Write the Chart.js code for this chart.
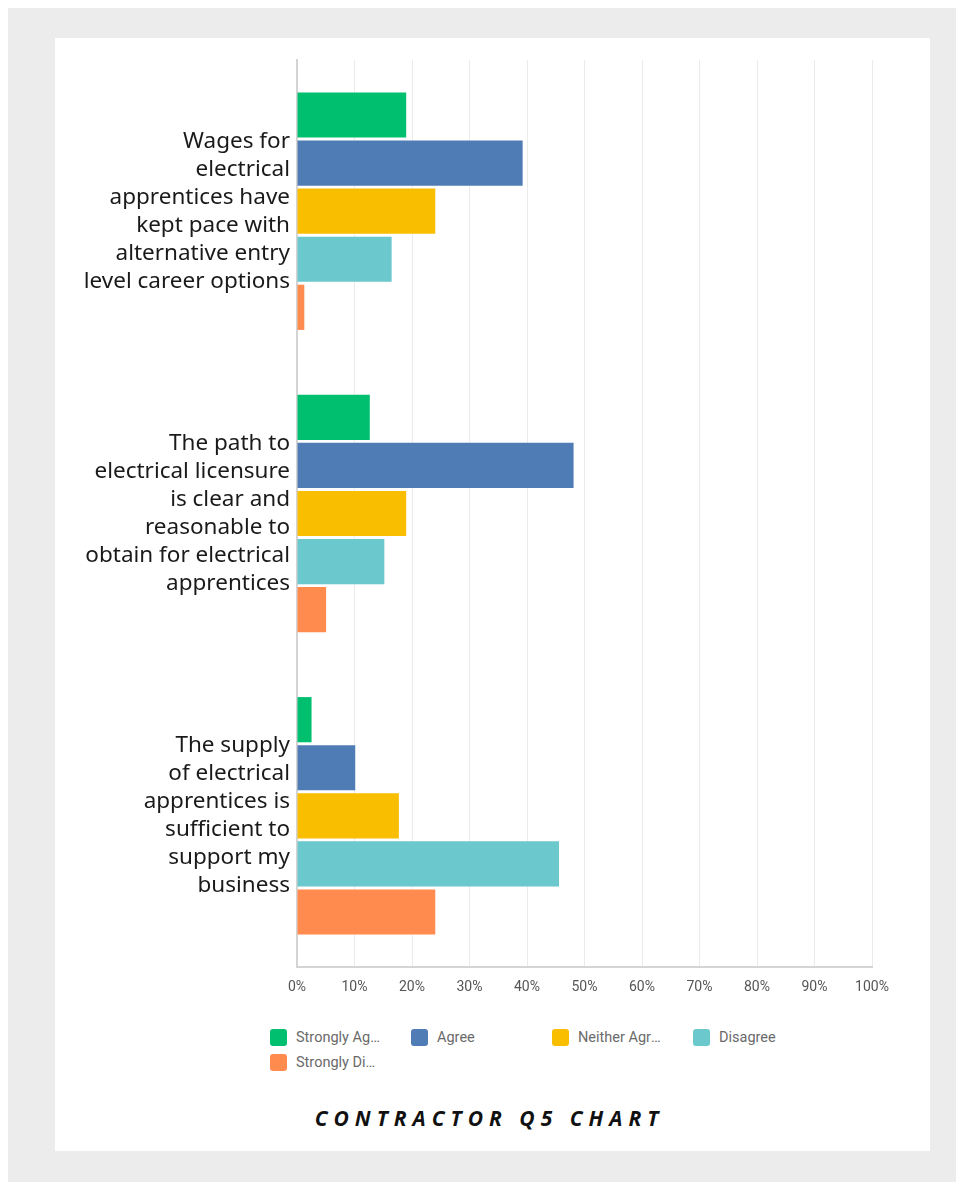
<!DOCTYPE html>
<html>
<head>
<meta charset="utf-8">
<script src="https://cdn.jsdelivr.net/npm/chart.js@4.4.1/dist/chart.umd.min.js"></script>
<style>
    html, body { margin: 0; padding: 0; background: #fff; }
    #frame { position: absolute; left: 8px; top: 8px; width: 948px; height: 1174px; background: #ececec; }
    #card { position: absolute; left: 55px; top: 38px; width: 875px; height: 1113px; background: #fff; }
    #chartBox { position: absolute; left: 0; top: 0; width: 875px; height: 969px; }
    #legend { position: absolute; left: 215px; top: 991px; width: 600px; display: grid; grid-template-columns: repeat(4, 141px); row-gap: 8px; }
    .item { display: flex; align-items: center; height: 17px; }
    .swatch { width: 17px; height: 17px; border-radius: 3px; flex: none; margin-right: 9px; }
    .label { font-family: Roboto, "Noto Sans", sans-serif; font-size: 14.5px; color: #6a6a6a; max-width: 86px; white-space: nowrap; overflow: hidden; text-overflow: ellipsis; }
    #title { position: absolute; left: -3px; width: 875px; top: 1066px; text-align: center; font-family: "Open Sans", sans-serif; font-weight: 700; font-style: italic; font-size: 21px; letter-spacing: 6px; color: #111; }
</style>
</head>
<body>
<div id="frame"></div>
<div id="card">
    <div id="chartBox"><canvas id="chart"></canvas></div>
    <div id="legend"></div>
    <div id="title">CONTRACTOR Q5 CHART</div>
</div>

<script>
// ==========================================================================================================
// -- Data --
// ==========================================================================================================

const categories = [
    ["Wages for", "electrical", "apprentices have", "kept pace with", "alternative entry", "level career options"],
    ["The path to", "electrical licensure", "is clear and", "reasonable to", "obtain for electrical", "apprentices"],
    ["The supply", "of electrical", "apprentices is", "sufficient to", "support my", "business"]
];

const seriesNames = ["Strongly Agree", "Agree", "Neither Agree nor Disagree", "Disagree", "Strongly Disagree"];
const seriesColors = ["#00bf6f", "#507cb6", "#f9be00", "#6bc8cd", "#ff8b4f"];

const stronglyAgree = [18.99, 12.66, 2.53];
const agree = [39.24, 48.10, 10.13];
const neither = [24.05, 18.99, 17.72];
const disagree = [16.46, 15.19, 45.57];
const stronglyDisagree = [1.27, 5.06, 24.05];

const xTicks = [0, 10, 20, 30, 40, 50, 60, 70, 80, 90, 100];

// ==========================================================================================================
// -- Chart --
// ==========================================================================================================

const seriesValues = [stronglyAgree, agree, neither, disagree, stronglyDisagree];

const ctx = document.getElementById('chart').getContext('2d');
const chart = new Chart(ctx, {
    type: 'bar',
    data: {
        labels: categories,
        datasets: seriesNames.map((name, i) => ({
            label: name,
            data: seriesValues[i],
            backgroundColor: seriesColors[i],
            borderWidth: 0,
            barPercentage: 0.94,
            categoryPercentage: 0.795,
        })),
    },
    options: {
        indexAxis: 'y',
        responsive: true,
        maintainAspectRatio: false,
        animation: false,
        layout: { padding: { top: 22, right: 58, left: 0, bottom: 0 } },
        scales: {
            x: {
                min: 0,
                max: 100,
                afterBuildTicks: (scale) => { scale.ticks = xTicks.map(v => ({ value: v })); },
                afterFit: (scale) => { scale.height = 40; scale.paddingLeft = 0; scale.paddingRight = 0; },
                ticks: {
                    callback: (v) => v + '%',
                    color: '#555',
                    padding: 12,
                    maxRotation: 0,
                    font: { family: 'Roboto, "Noto Sans", sans-serif', size: 14 },
                },
                grid: { color: '#ebebeb', lineWidth: 1, drawTicks: false },
                border: { color: '#d4d4d4', width: 2 },
            },
            y: {
                // labels are tall, keep them from pushing the plot area in
                afterFit: (scale) => { scale.width = 242; scale.paddingTop = 0; scale.paddingBottom = 0; },
                ticks: {
                    color: '#1a1a1a',
                    padding: 7,
                    font: { family: '"Noto Sans", sans-serif', size: 22.5, lineHeight: '28px' },
                },
                grid: { display: false, drawTicks: false },
                border: { color: '#d4d4d4', width: 2 },
            },
        },
        plugins: {
            legend: { display: false },
            tooltip: { enabled: false },
        },
    },
});

// Legend ---------------------------------------------------------------------------------------
const legend = document.getElementById('legend');
seriesNames.forEach((name, i) => {
    const item = document.createElement('div');
    item.className = 'item';
    item.innerHTML = `<span class="swatch" style="background:${seriesColors[i]}"></span><span class="label">${name}</span>`;
    legend.appendChild(item);
});
</script>
</body>
</html>
